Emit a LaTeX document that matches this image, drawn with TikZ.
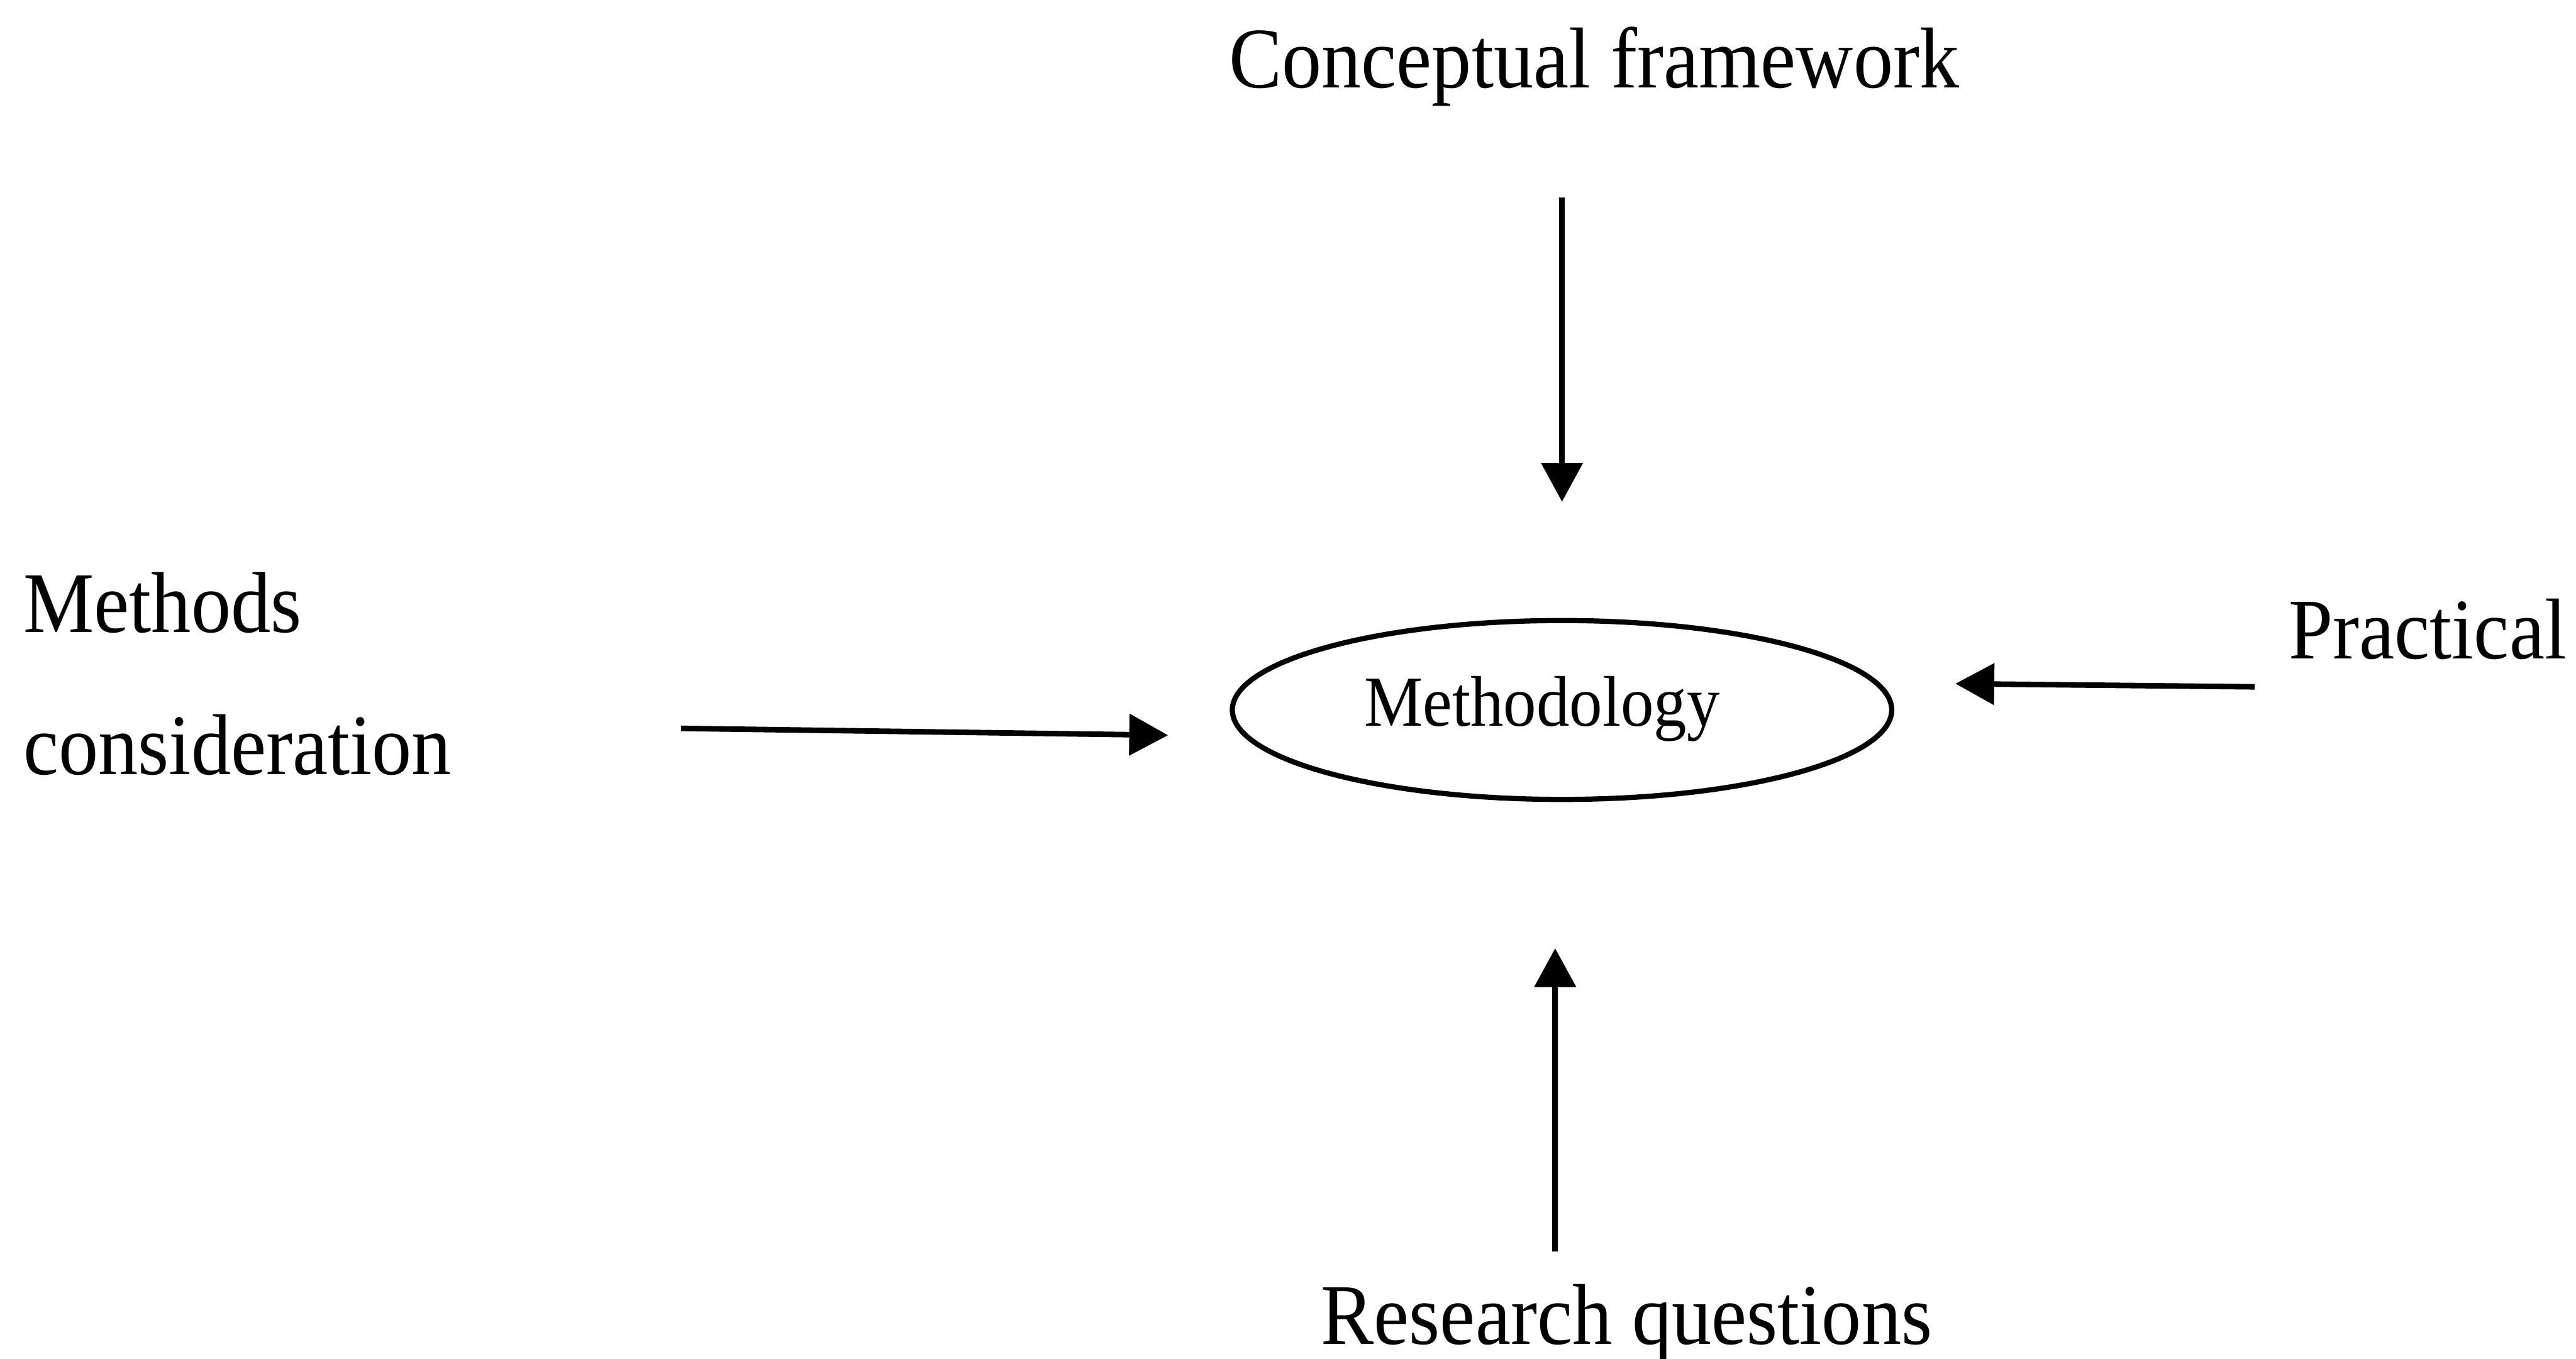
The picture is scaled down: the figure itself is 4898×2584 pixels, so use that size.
\documentclass[tikz,border=0pt]{standalone}
\usepackage{fontspec}
\setmainfont{Liberation Serif}[FakeStretch=0.92]
\usetikzlibrary{arrows.meta,shapes.geometric}

\tikzset{
  biglabel/.style={inner sep=0pt, font=\fontsize{46.7}{76.8}\selectfont},
  centre/.style={draw, ellipse, line width=2.8pt, inner sep=0pt,
    minimum width=12.53cm, minimum height=3.4cm},
  centrelabel/.style={inner sep=0pt, font=\fontsize{38.8}{46}\selectfont},
  flow/.style={line width=3pt, -{Triangle[length=21pt, width=22pt]}}
}

\begin{document}
\begin{tikzpicture}[x=0.01cm, y=-0.01cm]
  \useasboundingbox (0,0) rectangle (4898,2584);

  % surrounding influences
  \node[biglabel, anchor=base west] (cf) at (2336,167) {Conceptual framework};
  % two-line label: its base anchor sits on the last line
  \node[biglabel, anchor=base west, align=left] (mc) at (44,1473) {Methods\\consideration};
  \node[biglabel, anchor=base west] (pr) at (4351,1253) {Practical};
  \node[biglabel, anchor=base west] (rq) at (2511,2556) {Research questions};

  % central methodology ellipse
  \node[centre] (meth) at (2970,1350) {};
  \node[centrelabel, anchor=base] (methtext) at (2932,1381) {Methodology};

  % arrow ends
  \coordinate (cfTail) at (2970,376);
  \coordinate (cfTip)  at (2970,954);
  \coordinate (mcTail) at (1295,1385);
  \coordinate (mcTip)  at (2221,1398);
  \coordinate (prTail) at (4287,1306);
  \coordinate (prTip)  at (3718,1300);
  \coordinate (rqTail) at (2957,2380);
  \coordinate (rqTip)  at (2957,1803);

  \draw[flow] (cfTail) -- (cfTip);
  \draw[flow] (mcTail) -- (mcTip);
  \draw[flow] (prTail) -- (prTip);
  \draw[flow] (rqTail) -- (rqTip);
\end{tikzpicture}
\end{document}
